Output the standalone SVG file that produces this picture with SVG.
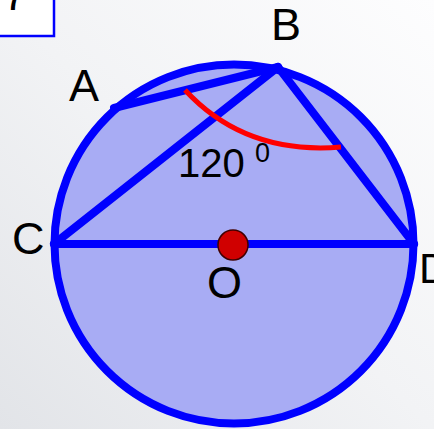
<svg xmlns="http://www.w3.org/2000/svg" width="434" height="429" viewBox="0 0 434 429">
<defs>
<linearGradient id="bg" x1="1" y1="0" x2="0" y2="1">
<stop offset="0" stop-color="#fdfdfe"/>
<stop offset="0.5" stop-color="#f2f3f5"/>
<stop offset="1" stop-color="#e2e4e8"/>
</linearGradient>
<style>
.lbl{font-family:"Liberation Sans",Arial,sans-serif;fill:#000;}
.seg{stroke:#0000ff;stroke-width:8;stroke-linecap:round;fill:none;}
</style>
</defs>
<rect width="434" height="429" fill="url(#bg)"/>
<g id="box">
<rect x="-10" y="-10" width="64" height="46" fill="#ffffff" stroke="#0000ff" stroke-width="2.5"/>
<text class="lbl" x="3" y="10" font-size="44">7</text>
</g>
<g id="circle">
<circle cx="234" cy="244" r="179.5" fill="#a8acf4" stroke="#0000ff" stroke-width="8"/>
</g>
<g id="connectors">
<line class="seg" x1="54" y1="244" x2="414" y2="244"/>
<line class="seg" x1="54" y1="244" x2="278" y2="67"/>
<line class="seg" x1="278" y1="67" x2="414" y2="244"/>
<line class="seg" x1="114" y1="108" x2="278" y2="67"/>
<path d="M185,90 Q245,155 341,147" fill="none" stroke="#ff0000" stroke-width="5"/>
</g>
<g id="O">
<circle cx="233" cy="245" r="15" fill="#d00000" stroke="#400000" stroke-width="1.5"/>
<text class="lbl" x="207" y="298" font-size="45">O</text>
</g>
<g id="labels">
<text class="lbl" x="69" y="101" font-size="45">A</text>
<text class="lbl" x="271" y="40" font-size="45">B</text>
<text class="lbl" x="12" y="254" font-size="45">C</text>
<text class="lbl" x="419" y="283" font-size="42">D</text>
<text class="lbl" x="178" y="177" font-size="40">120</text>
<text class="lbl" x="255" y="162" font-size="27">0</text>
</g>
</svg>
